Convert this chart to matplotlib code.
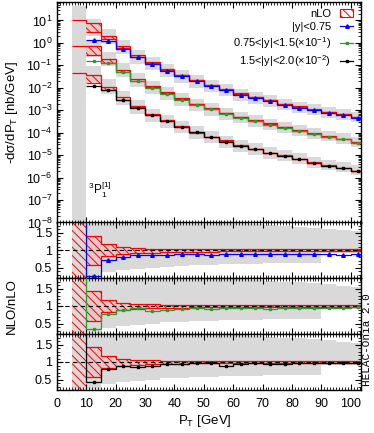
import numpy as np
import matplotlib
matplotlib.use("Agg")
import matplotlib.pyplot as plt
from matplotlib.patches import Patch, Rectangle
from matplotlib.lines import Line2D
from matplotlib.ticker import MultipleLocator, FixedLocator, LogLocator, NullFormatter, FormatStrFormatter

plt.rcParams['font.family'] = ['Liberation Sans', 'DejaVu Sans']
plt.rcParams['mathtext.fontset'] = 'custom'
plt.rcParams['mathtext.rm'] = 'Liberation Sans'
plt.rcParams['mathtext.it'] = 'Liberation Sans:italic'
plt.rcParams['hatch.linewidth'] = 0.7

# ---------------- data ----------------
edges = [5, 10, 15, 20, 25, 30, 35, 40, 45, 50, 55, 60, 65, 70, 75, 80, 85, 90, 95, 100, 105]

# NLO differential cross sections (bins 10-15 ... 100-105), nb/GeV, already scaled
nlo_y1 = [1.4, 1.26, 0.54, 0.23, 0.117, 0.059, 0.033, 0.0196, 0.0118, 0.0076, 0.0049,
          0.0035, 0.0025, 0.0017, 0.0013, 0.00098, 0.00074, 0.00059, 0.00045]
nlo_y2 = [0.163, 0.124, 0.049, 0.021, 0.0100, 0.0054, 0.0030, 0.0018, 0.0011, 0.0007,
          0.00047, 0.00033, 0.00023, 0.00017, 0.000115, 8.5e-5, 6.5e-5, 5.0e-5, 3.6e-5]
nlo_y3 = [0.0115, 0.0076, 0.0030, 0.0013, 0.00059, 0.00032, 0.00018, 0.000103, 6.4e-5,
          3.9e-5, 2.6e-5, 1.8e-5, 1.2e-5, 9.0e-6, 6.5e-6, 4.5e-6, 3.3e-6, 2.6e-6, 1.95e-6]

# NLO / nLO ratios (first entry: 5-10 GeV bin, off scale)
ratio_y1 = [3.0, 0.25, 0.71, 0.81, 0.86, 0.87, 0.86, 0.88, 0.88, 0.87, 0.89, 0.88, 0.90,
            0.89, 0.90, 0.90, 0.90, 0.90, 0.85, 0.88]
ratio_y2 = [3.0, 0.33, 0.78, 0.89, 0.93, 0.85, 0.90, 0.92, 0.93, 0.92, 0.94, 0.94, 0.93,
            0.92, 0.94, 0.93, 0.94, 0.94, 0.95, 0.96]
ratio_y3 = [3.0, 0.42, 0.79, 0.88, 0.85, 0.90, 0.95, 0.93, 0.97, 0.98, 0.88, 0.94, 0.96,
            0.95, 0.94, 0.96, 0.97, 0.98, 0.97, 0.98]

# nLO value in the 5-10 GeV bin (upper edge shown)
nlo0 = [10.0, 0.70, 0.045]

# nLO relative band (bins 10-15 ... 100-105)
nlo_up = [1.42, 1.17, 1.09, 1.06, 1.05, 1.04, 1.035, 1.03, 1.03, 1.03, 1.03, 1.03,
          1.03, 1.03, 1.03, 1.03, 1.03, 1.03, 1.03]
nlo_dn = [0.57, 0.82, 0.88, 0.91, 0.93, 0.94, 0.95, 0.96, 0.96, 0.97, 0.97, 0.97,
          0.97, 0.97, 0.97, 0.97, 0.97, 0.97, 0.97]

# NLO scale-band factors in main panel (relative to NLO value)
band_up = [8.0, 3.3, 2.5, 2.2, 2.0, 1.95, 1.9, 1.85, 1.85, 1.85, 1.85, 1.85, 1.85,
           1.85, 1.85, 1.85, 1.85, 1.85, 1.85]
band_dn = [1.5, 0.72, 0.6, 0.52, 0.52, 0.52, 0.52, 0.52, 0.53, 0.54, 0.55, 0.56,
           0.57, 0.58, 0.6, 0.62, 0.64, 0.65, 0.66]
band0_top = 42.0

# NLO band in ratio panels (relative to nLO)
rband_lo = [0.22, 0.37, 0.42, 0.47, 0.50, 0.53, 0.55, 0.57, 0.58, 0.60, 0.60, 0.61,
            0.62, 0.62, 0.63, 0.63, 0.92, 0.92, 0.92]
rband_hi = [2.5, 2.5, 2.3, 2.1, 2.0, 1.95, 1.9, 1.85, 1.83, 1.80, 1.78, 1.75, 1.72,
            1.70, 1.68, 1.65, 1.62, 1.58, 1.55]

labels = ['|y|<0.75', '0.75<|y|<1.5(\u00d710$^{-1}$)', '1.5<|y|<2.0(\u00d710$^{-2}$)']
colors = ['#0000ff', '#2e9a2e', '#000000']
markers = ['^', 's', 's']
msizes = [2.6, 2.0, 1.8]

# ---------------- figure ----------------
W, H = 374, 433
fig = plt.figure(figsize=(W / 100, H / 100), dpi=100)
L = 57 / W
Wd = (361 - 57) / W

def box(top, bot):
    return [L, 1 - bot / H, Wd, (bot - top) / H]

ax = fig.add_axes(box(1.5, 222.5))
rax = [fig.add_axes(box(222.5, 278)), fig.add_axes(box(278, 334)), fig.add_axes(box(334, 390))]

e = np.array(edges, dtype=float)
e1 = e[1:]
centers = 0.5 * (e1[:-1] + e1[1:])
gray = '#d9d9d9'
HATCH = '\\\\\\\\'
LW = 0.9

nlos = [np.array(nlo_y1), np.array(nlo_y2), np.array(nlo_y3)]
ratios = [np.array(ratio_y1), np.array(ratio_y2), np.array(ratio_y3)]
up = np.array(nlo_up)
dn = np.array(nlo_dn)

# main panel
ax.add_patch(Rectangle((e[0], 1e-12), e[1] - e[0], band0_top, facecolor=gray, edgecolor='none', zorder=1))
for i in range(3):
    nlo = nlos[i]
    lo_ref = nlo / ratios[i][1:]
    for j in range(len(nlo)):
        ax.add_patch(Rectangle((e1[j], nlo[j] * band_dn[j]), e1[j + 1] - e1[j],
                               nlo[j] * (band_up[j] - band_dn[j]),
                               facecolor=gray, edgecolor='none', zorder=1))
    hi = lo_ref * up
    lo = lo_ref * dn
    ax.stairs(hi, e1, baseline=lo, fill=True, facecolor=(1, 0.6, 0.6, 0.25),
              edgecolor='red', hatch=HATCH, linewidth=0, zorder=2)
    ax.stairs(np.concatenate([[nlo0[i]], hi]), e, baseline=None, color='red', lw=LW, zorder=3)
    ax.stairs(lo, e1, baseline=None, color='red', lw=LW, zorder=3)
    ax.stairs(nlo, e1, baseline=None, color=colors[i], lw=LW, zorder=4)
    ax.plot(centers, nlo, ls='none', marker=markers[i], ms=msizes[i], color=colors[i], zorder=5)

ax.set_yscale('log')
ax.set_ylim(1e-8, 70)
ax.set_xlim(0, 103.5)
ax.yaxis.set_major_locator(LogLocator(base=10, numticks=20))
ax.yaxis.set_minor_locator(LogLocator(base=10, subs=np.arange(2, 10), numticks=20))
ax.yaxis.set_minor_formatter(NullFormatter())
ax.set_xticklabels([])
ax.text(10.6, 10**-6.55, '$^3$P$_1^{[1]}$', fontsize=8.5, va='center', ha='left')

handles = [Patch(facecolor='none', edgecolor='red', hatch=HATCH, linewidth=0.8)]
for i in range(3):
    handles.append(Line2D([], [], color=colors[i], marker=markers[i], ms=msizes[i], lw=LW))
leg = ax.legend(handles, ['nLO'] + labels, loc='upper right', frameon=False, fontsize=8,
                markerfirst=False, handlelength=1.2, handletextpad=0.8, labelspacing=0.25,
                borderaxespad=0.3)

# ratio panels
for i, r in enumerate(rax):
    r.add_patch(Rectangle((e[0], -1), e[1] - e[0], 5, facecolor=gray, edgecolor='none', zorder=1))
    r.stairs(np.array(rband_hi), e1, baseline=np.array(rband_lo), fill=True, facecolor=gray,
             edgecolor='none', linewidth=0, zorder=1)
    r.add_patch(Rectangle((e[0], -1), e[1] - e[0], 5, facecolor='none', edgecolor='red',
                          hatch=HATCH, linewidth=0, zorder=2))
    r.stairs(up, e1, baseline=dn, fill=True, facecolor=(1, 0.6, 0.6, 0.25), edgecolor='red',
             hatch=HATCH, linewidth=0, zorder=2)
    r.stairs(up, e1, baseline=None, color='red', lw=LW, zorder=3)
    r.stairs(dn, e1, baseline=None, color='red', lw=LW, zorder=3)
    r.axhline(1.0, color='black', ls=(0, (4, 3)), lw=0.8, zorder=4)
    r.stairs(ratios[i], e, baseline=None, color=colors[i], lw=LW, zorder=5)
    r.plot(centers, ratios[i][1:], ls='none', marker=markers[i], ms=msizes[i],
           color=colors[i], zorder=6)
    r.set_xlim(0, 103.5)
    r.set_ylim(0.2, 1.8)
    r.yaxis.set_major_locator(FixedLocator([0.5, 1.0, 1.5]))
    r.yaxis.set_major_formatter(FormatStrFormatter('%g'))
    r.yaxis.set_minor_locator(MultipleLocator(0.1))
    if i < 2:
        r.set_xticklabels([])

for a in [ax] + rax:
    a.xaxis.set_major_locator(MultipleLocator(10))
    a.xaxis.set_minor_locator(MultipleLocator(1))
    a.tick_params(which='both', direction='in', top=True, right=True, labelsize=9)
    a.tick_params(which='major', length=4, width=0.8)
    a.tick_params(which='minor', length=2, width=0.6)
    for s in a.spines.values():
        s.set_linewidth(1.0)

rax[2].tick_params(axis='x', pad=6)
fig.text(12 / W, 1 - 112 / H, '-d\u03c3/dP$_{\\rm T}$ [nb/GeV]', rotation=90, ha='center',
         va='center', fontsize=9.5)
fig.text(12 / W, 1 - 306 / H, 'NLO/nLO', rotation=90, ha='center', va='center', fontsize=9.5)
fig.text(205 / W, 1 - 421 / H, 'P$_{\\rm T}$ [GeV]', ha='center', va='center', fontsize=9.5)
fig.text(367 / W, 1 - 340 / H, 'HELAC-Onia 2.0', rotation=90, ha='center', va='center',
         fontsize=8, family='Liberation Mono')

fig.savefig('out.png', dpi=100)
